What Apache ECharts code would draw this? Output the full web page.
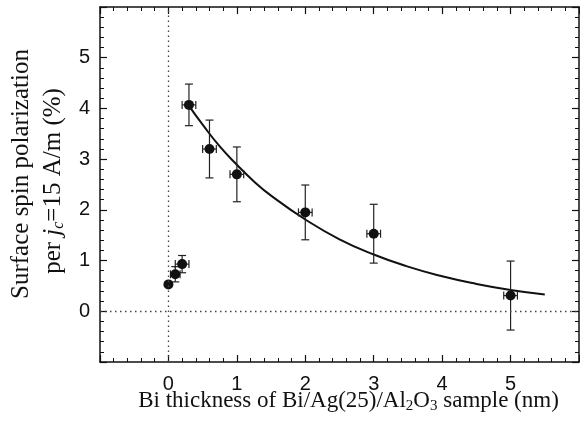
<!DOCTYPE html>
<html>
<head>
<meta charset="utf-8">
<script src="https://cdn.jsdelivr.net/npm/echarts@6/dist/echarts.min.js"></script>
<style>
    html, body { margin: 0; padding: 0; background: #fff; }
    #chart-main { width: 580px; height: 422px; }
</style>
</head>
<body>
<div id="chart-main"></div>
<script>
// measured points (nm, %)
let thickness = [0, 0.1, 0.2, 0.3, 0.6, 1, 2, 3, 5];
let polarization = [0.53, 0.73, 0.93, 4.07, 3.2, 2.7, 1.95, 1.53, 0.31];
let thicknessErr = [0, 0.07, 0.1, 0.1, 0.1, 0.1, 0.1, 0.1, 0.1];
let polarizationErr = [0, 0.15, 0.17, 0.41, 0.57, 0.54, 0.54, 0.58, 0.68];

// fit curve
let fitThickness = [0.3, 0.5, 0.75, 1, 1.25, 1.5, 2, 2.5, 3, 3.5, 4, 4.5, 5, 5.5];
let fitPolarization = [4.05, 3.68, 3.25, 2.89, 2.56, 2.28, 1.81, 1.42, 1.12, 0.88, 0.69, 0.54, 0.42, 0.33];

let tickLabels = [0, 1, 2, 3, 4, 5];

const sansFont = '"Liberation Sans", Arial, sans-serif';
const serifFont = '"Liberation Serif", "Times New Roman", serif';

let myChart = echarts.init(document.getElementById("chart-main"));

function makeAxis(position, showLabel) {
    return {
        type: "value",
        position: position,
        min: -1,
        max: 6,
        interval: 1,
        axisLine: { show: true, onZero: false, lineStyle: { color: "#111", width: 1.5 } },
        axisTick: { show: true, inside: true, length: 7, lineStyle: { color: "#111", width: 1.2 } },
        minorTick: { show: true, splitNumber: 5, length: 4, lineStyle: { color: "#111", width: 1 } },
        splitLine: { show: false },
        axisLabel: {
            show: showLabel,
            margin: position === "bottom" ? 12 : 10,
            color: "#111",
            fontFamily: sansFont,
            fontSize: 20,
            formatter: function (v) {
                return tickLabels.indexOf(v) >= 0 ? String(v) : "";
            },
        },
    };
}

let xBottom = makeAxis("bottom", true);
xBottom.name = "Bi thickness of Bi/Ag(25)/Al{s|2}O{s|3} sample (nm)";
xBottom.nameLocation = "middle";
xBottom.nameGap = 26;
xBottom.nameMoveOverlap = false;
xBottom.nameTextStyle = {
    color: "#111",
    fontFamily: serifFont,
    fontSize: 23,
    lineHeight: 26,
    padding: [0, 0, 0, 18],
    rich: {
        s: { fontFamily: serifFont, fontSize: 15, lineHeight: 11, verticalAlign: "bottom", color: "#111" },
    },
};

let errorData = thickness.map((x, i) => [x, polarization[i], thicknessErr[i], polarizationErr[i]]);
let pointData = thickness.map((x, i) => [x, polarization[i]]);
let fitData = fitThickness.map((x, i) => [x, fitPolarization[i]]);

function renderErrorBar(params, api) {
    let x = api.value(0), y = api.value(1), ex = api.value(2), ey = api.value(3);
    let children = [];
    let style = { stroke: "#222", lineWidth: 1.2 };
    let cap = 4;
    if (ey > 0) {
        let top = api.coord([x, y + ey]);
        let bot = api.coord([x, y - ey]);
        children.push(
            { type: "line", shape: { x1: top[0], y1: top[1], x2: bot[0], y2: bot[1] }, style: style },
            { type: "line", shape: { x1: top[0] - cap, y1: top[1], x2: top[0] + cap, y2: top[1] }, style: style },
            { type: "line", shape: { x1: bot[0] - cap, y1: bot[1], x2: bot[0] + cap, y2: bot[1] }, style: style }
        );
    }
    if (ex > 0) {
        let l = api.coord([x - ex, y]);
        let r = api.coord([x + ex, y]);
        children.push(
            { type: "line", shape: { x1: l[0], y1: l[1], x2: r[0], y2: r[1] }, style: style },
            { type: "line", shape: { x1: l[0], y1: l[1] - cap, x2: l[0], y2: l[1] + cap }, style: style },
            { type: "line", shape: { x1: r[0], y1: r[1] - cap, x2: r[0], y2: r[1] + cap }, style: style }
        );
    }
    return { type: "group", children: children };
}

let option = {
    backgroundColor: "#fff",
    animation: false,
    grid: { left: 100, right: 1, top: 7, bottom: 60, outerBoundsMode: "none", containLabel: false },
    xAxis: [xBottom, makeAxis("top", false)],
    yAxis: [makeAxis("left", true), makeAxis("right", false)],
    graphic: [
        {
            type: "text",
            x: 21,
            y: 174,
            rotation: Math.PI / 2,
            style: {
                text: "Surface spin polarization",
                fill: "#111",
                font: "25px " + serifFont,
                align: "center",
                verticalAlign: "middle",
            },
        },
        {
            type: "text",
            x: 53,
            y: 181,
            rotation: Math.PI / 2,
            style: {
                text: "per {i|j}{s|c}=15 A/m (%)",
                fill: "#111",
                font: "25px " + serifFont,
                lineHeight: 28,
                align: "center",
                verticalAlign: "middle",
                rich: {
                    i: { fontFamily: serifFont, fontSize: 25, fontStyle: "italic", lineHeight: 28, fill: "#111" },
                    s: { fontFamily: serifFont, fontSize: 16, fontStyle: "italic", lineHeight: 12, verticalAlign: "bottom", fill: "#111" },
                },
            },
        },
    ],
    series: [
        {
            type: "line",
            data: fitData,
            smooth: true,
            showSymbol: false,
            silent: true,
            lineStyle: { color: "#111", width: 2 },
            markLine: {
                silent: true,
                symbol: "none",
                label: { show: false },
                lineStyle: { color: "#444", width: 1.3, type: [1.5, 3.5] },
                data: [{ xAxis: 0 }, { yAxis: 0 }],
            },
            z: 2,
        },
        {
            type: "custom",
            data: errorData,
            renderItem: renderErrorBar,
            silent: true,
            z: 3,
        },
        {
            type: "scatter",
            data: pointData,
            symbol: "circle",
            symbolSize: 10,
            itemStyle: { color: "#111", opacity: 1 },
            silent: true,
            z: 4,
        },
    ],
};
option && myChart.setOption(option);
</script>
</body>
</html>
